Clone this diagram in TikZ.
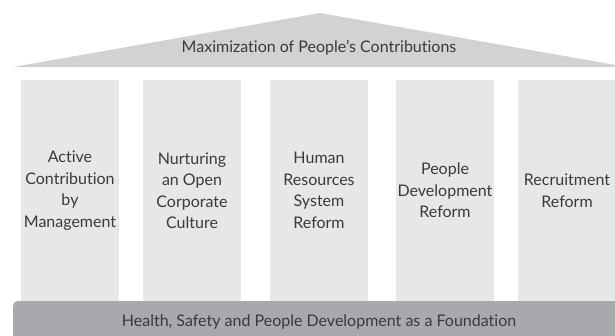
\documentclass[tikz,border=0pt]{standalone}
\usepackage{fontspec}
\setmainfont{Lato}[RawFeature={-liga;-dlig}]
\definecolor{roofgray}{HTML}{D1D2D4}
\definecolor{pillargray}{HTML}{E6E7E8}
\definecolor{basegray}{HTML}{A7A9AC}
\definecolor{txt}{HTML}{3A3A3A}
\tikzset{
  pillar/.style={fill=pillargray, draw=none, minimum height=221pt, inner sep=0pt,
    text=txt, align=center, font=\fontsize{16}{21.5}\selectfont},
  bandtext/.style={text=txt, font=\fontsize{16}{18}\selectfont, inner sep=0pt}
}
\begin{document}
\begin{tikzpicture}[x=1pt,y=-1pt]
\useasboundingbox (0,0) rectangle (615,335);
\clip (0,0) rectangle (615,335);
% roof
\fill[roofgray] (13,67) -- (320,13) -- (627,67) -- cycle;
\node[bandtext] (roof) at (319,48) {Maximization of People’s Contributions};
% pillars
\node[pillar, minimum width=98pt] (p1) at (70,190.5) {Active\\Contribution\\by\\Management};
\node[pillar, minimum width=98pt] (p2) at (192,190.5) {Nurturing\\an Open\\Corporate\\Culture};
\node[pillar, minimum width=98pt] (p3) at (319,190.5) {Human\\Resources\\System\\Reform};
\node[pillar, minimum width=98pt] (p4) at (445,190.5) {People\\Development\\Reform};
\node[pillar, minimum width=98pt] (p5) at (567,190.5) {Recruitment\\Reform};
% foundation
\fill[basegray, rounded corners=5pt] (13,345) -- (13,301) -- (630,301) -- (630,345) -- cycle;
\node[bandtext] (base) at (319,322) {Health, Safety and People Development as a Foundation};
\end{tikzpicture}
\end{document}
